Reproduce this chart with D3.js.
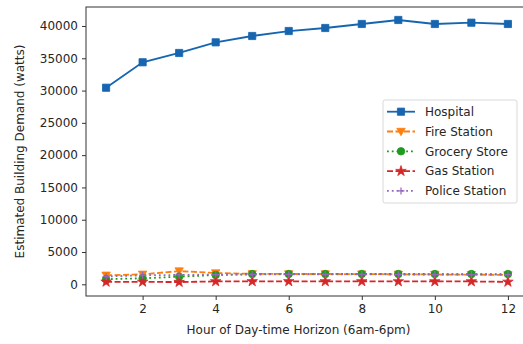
<!DOCTYPE html>
<html>
<head>
<meta charset="utf-8">
<script src="https://cdn.jsdelivr.net/npm/d3@7"></script>
<style>
  body { margin: 0; background: #fff; }
  text { font-family: "DejaVu Sans", sans-serif; fill: #262626; }
</style>
</head>
<body>
<div id="chart"></div>
<script>
// hours of the day-time horizon
const hours = [1, 2, 3, 4, 5, 6, 7, 8, 9, 10, 11, 12];

// estimated demand per building (watts)
const hospital = [30440, 34380, 35820, 37470, 38450, 39220, 39690, 40310, 40930, 40310, 40510, 40310];
const fireStation = [1400, 1550, 2050, 1750, 1620, 1600, 1600, 1580, 1550, 1520, 1500, 1450];
const groceryStore = [800, 930, 1180, 1440, 1590, 1590, 1590, 1600, 1600, 1590, 1590, 1590];
const gasStation = [380, 380, 350, 450, 460, 460, 450, 450, 440, 440, 440, 380];
const policeStation = [1200, 1400, 1450, 1500, 1520, 1530, 1530, 1530, 1520, 1520, 1510, 1500];

const xTicks = [2, 4, 6, 8, 10, 12];
const yTicks = [0, 5000, 10000, 15000, 20000, 25000, 30000, 35000, 40000];

const series = [
    {name: "Hospital", values: hospital, color: "#1565b0", dash: null, marker: "square"},
    {name: "Fire Station", values: fireStation, color: "#ff7f0e", dash: "6,2.5", marker: "triangleDown"},
    {name: "Grocery Store", values: groceryStore, color: "#1e9a1e", dash: "1.8,3", marker: "circle"},
    {name: "Gas Station", values: gasStation, color: "#d62728", dash: "6,2.5", marker: "star"},
    {name: "Police Station", values: policeStation, color: "#9467bd", dash: "1.8,3", marker: "plus"}
];

const width = 523, height = 344;
const plot = {left: 86, top: 7, right: 528, bottom: 296};

const svg = d3.select("#chart").append("svg")
    .attr("width", width)
    .attr("height", height);

const x = d3.scaleLinear().domain([0.45, 12.55]).range([plot.left, plot.right]);
const y = d3.scaleLinear().domain([-1810, 42940]).range([plot.bottom, plot.top]);

// axes
svg.append("g")
    .attr("transform", `translate(0,${plot.bottom})`)
    .call(d3.axisBottom(x).tickValues(xTicks).tickSize(4).tickPadding(4))
    .call(g => g.select(".domain").remove())
    .selectAll("text").style("font-size", "12px");

svg.append("g")
    .attr("transform", `translate(${plot.left},0)`)
    .call(d3.axisLeft(y).tickValues(yTicks).tickFormat(d3.format("d")).tickSize(4).tickPadding(4))
    .call(g => g.select(".domain").remove())
    .selectAll("text").style("font-size", "12px");

svg.selectAll(".tick line").attr("stroke", "#333");

svg.append("clipPath").attr("id", "clip")
    .append("rect")
    .attr("x", plot.left).attr("y", plot.top)
    .attr("width", plot.right - plot.left).attr("height", plot.bottom - plot.top);

const line = d3.line()
    .x((d, i) => x(hours[i]))
    .y(d => y(d));

function markerPath(type) {
    if (type === "square") return d3.symbol(d3.symbolSquare, 52)();
    if (type === "circle") return d3.symbol(d3.symbolCircle, 44)();
    if (type === "star") return d3.symbol(d3.symbolStar, 34)();
    if (type === "triangleDown") return "M-4.2,-3.2L4.2,-3.2L0,4.2Z";
    if (type === "plus") return "M-3.5,0L3.5,0M0,-3.5L0,3.5";
}

const layer = svg.append("g").attr("clip-path", "url(#clip)");

series.forEach(s => {
    layer.append("path")
        .datum(s.values)
        .attr("d", line)
        .attr("fill", "none")
        .attr("stroke", s.color)
        .attr("stroke-width", 1.8)
        .attr("stroke-dasharray", s.dash);

    layer.selectAll(null)
        .data(s.values)
        .enter()
        .append("path")
        .attr("transform", (d, i) => `translate(${x(hours[i])},${y(d)})`)
        .attr("d", markerPath(s.marker))
        .attr("fill", s.marker === "plus" ? "none" : s.color)
        .attr("stroke", s.color)
        .attr("stroke-width", s.marker === "plus" ? 1.2 : 0.8);
});

// frame
svg.append("rect")
    .attr("x", plot.left).attr("y", plot.top)
    .attr("width", plot.right - plot.left).attr("height", plot.bottom - plot.top)
    .attr("fill", "none")
    .attr("stroke", "#333")
    .attr("stroke-width", 1);

// axis labels
svg.append("text")
    .attr("x", (plot.left + 523) / 2 - 6)
    .attr("y", 334)
    .attr("text-anchor", "middle")
    .style("font-size", "12px")
    .text("Hour of Day-time Horizon (6am-6pm)");

svg.append("text")
    .attr("transform", `translate(24,${(plot.top + plot.bottom) / 2}) rotate(-90)`)
    .attr("text-anchor", "middle")
    .style("font-size", "12px")
    .text("Estimated Building Demand (watts)");

// legend
const legend = svg.append("g").attr("transform", "translate(383,100)");

legend.append("rect")
    .attr("width", 134).attr("height", 103)
    .attr("rx", 2)
    .attr("fill", "#fff")
    .attr("fill-opacity", 0.8)
    .attr("stroke", "#d9d9d9");

series.forEach((s, i) => {
    const ly = 11.7 + i * 19.8;
    legend.append("line")
        .attr("x1", 4).attr("x2", 32)
        .attr("y1", ly).attr("y2", ly)
        .attr("stroke", s.color)
        .attr("stroke-width", 1.8)
        .attr("stroke-dasharray", s.dash);
    legend.append("path")
        .attr("transform", `translate(18,${ly})`)
        .attr("d", markerPath(s.marker))
        .attr("fill", s.marker === "plus" ? "none" : s.color)
        .attr("stroke", s.color)
        .attr("stroke-width", s.marker === "plus" ? 1.2 : 0.8);
    legend.append("text")
        .attr("x", 42)
        .attr("y", ly)
        .attr("dy", "0.35em")
        .style("font-size", "12px")
        .text(s.name);
});
</script>
</body>
</html>
